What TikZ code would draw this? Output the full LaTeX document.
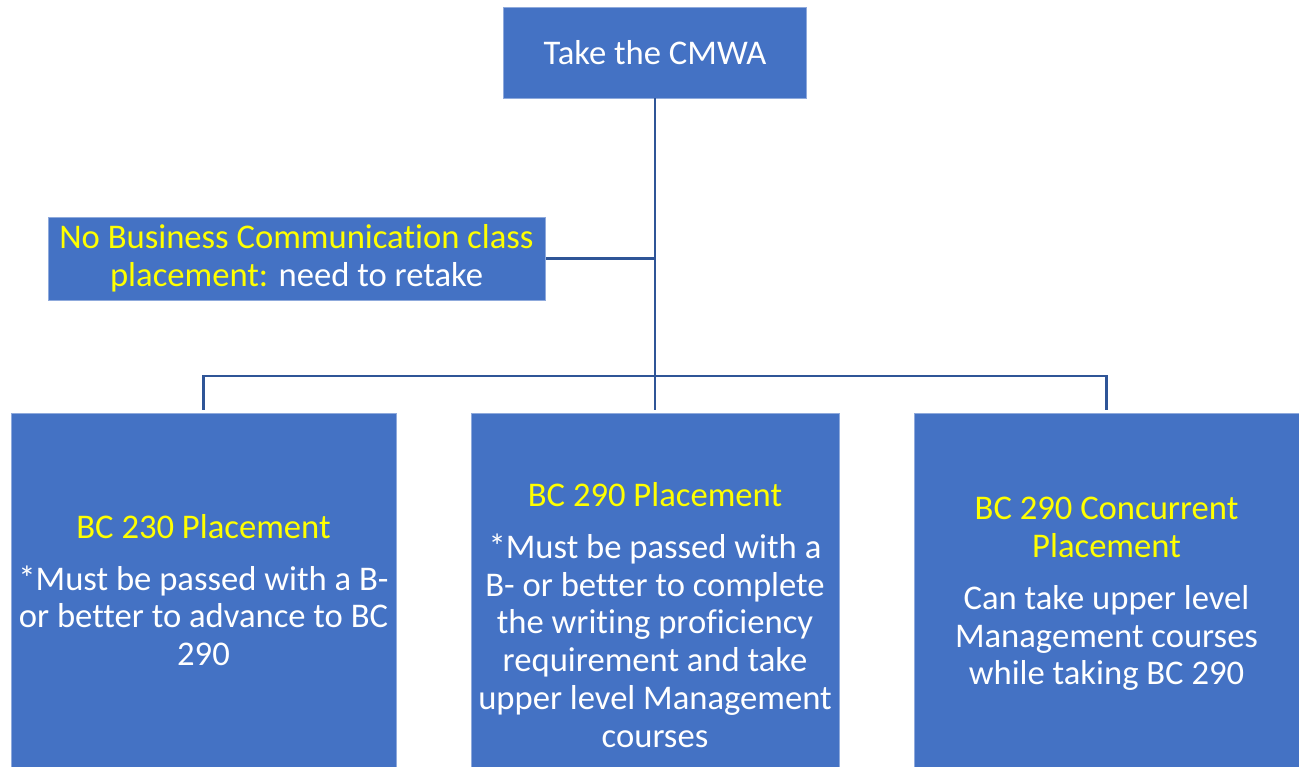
\documentclass[tikz,border=0pt]{standalone}
\usepackage{fontspec}
\setmainfont{Carlito}[Ligatures=NoCommon]
\usepackage{tikz}
\usetikzlibrary{
  positioning
  , calc
  % for connectors
  , arrows.meta
}
\definecolor{boxblue}{HTML}{4472C4}
\definecolor{lineblue}{HTML}{2F5597}
\definecolor{titleyellow}{HTML}{FFFF00}
\def\Ttl#1{\textcolor{titleyellow}{#1}}

\begin{document}
\begin{tikzpicture}
      \def\BoxColor {boxblue};
      \tikzset{
        plcbox/.style={
          draw=boxblue!60!white,
          fill=\BoxColor,
          rectangle,
          text=white,
          align=center,
          inner sep=0pt,
          font=\fontsize{19.7}{21.5}\selectfont,
        },
        plctext/.style={
          text=white,
          align=center,
          inner sep=0pt,
          font=\fontsize{19.7}{21.5}\selectfont,
        },
        conn/.style={color=lineblue, line width=1.6pt},
      }
      \useasboundingbox (0,0) rectangle (25.98,-15.34);

      \node [plcbox,
        minimum width=6.06cm,
        minimum height=1.82cm,
      ] (Cmwa) at (13.1, -1.05){Take the CMWA};

      \node [plcbox,
        minimum width=9.94cm,
        minimum height=1.66cm,
      ] (NoPlc) at (5.93, -5.17)
      {\Ttl{No Business Communication class}\\
       \Ttl{placement:} need to retake};

      \node [plcbox,
        minimum width=7.7cm,
        minimum height=7.08cm,
      ] (Plc230) at (4.07, -11.8)
      {\Ttl{BC 230 Placement}\\[8pt]
       *Must be passed with a B-\\
       or better to advance to BC\\
       290};

      % text sits lower than the box centre here
      \node [plcbox,
        minimum width=7.36cm,
        minimum height=7.08cm,
        label={[plctext, yshift=-0.5cm]center:{\Ttl{BC 290 Placement}\\[8pt]
       *Must be passed with a\\
       B- or better to complete\\
       the writing proficiency\\
       requirement and take\\
       upper level Management\\
       courses}},
      ] (Plc290) at (13.1, -11.8){};

      \node [plcbox,
        minimum width=7.7cm,
        minimum height=7.08cm,
        label={[plctext, yshift=-0.08cm]center:{\Ttl{BC 290 Concurrent}\\
       \Ttl{Placement}\\[8pt]
       Can take upper level\\
       Management courses\\
       while taking BC 290}},
      ] (PlcConc) at (22.13, -11.8){};

      % tree
      \coordinate (Bus) at (13.1, -7.52);
      \draw[conn, shorten >=0.06cm] (Cmwa.south) -- (Plc290.north);
      \draw[conn, shorten <=0.06cm, shorten >=0.06cm]
      (Plc230.north) |- (Bus) -| (PlcConc.north);
      \draw[conn, shorten <=0.02cm] (NoPlc.east) -- (Cmwa.south |- NoPlc.east);

    \end{tikzpicture}
\end{document}
